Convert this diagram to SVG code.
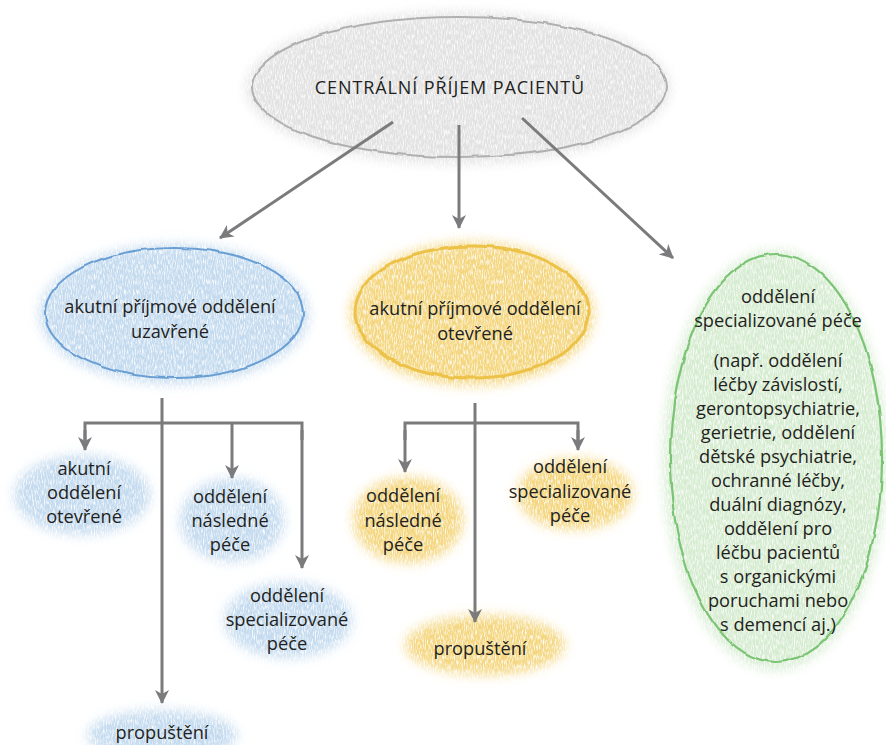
<svg xmlns="http://www.w3.org/2000/svg" width="886" height="745" viewBox="0 0 886 745">
<defs>
<filter id="soft" x="-30%" y="-30%" width="160%" height="160%">
<feGaussianBlur stdDeviation="6" result="b"/>
<feTurbulence type="fractalNoise" baseFrequency="0.9 0.2" numOctaves="2" seed="3" result="n"/>
<feComponentTransfer in="n" result="a"><feFuncA type="linear" slope="2.2" intercept="-0.3"/></feComponentTransfer>
<feComposite in="b" in2="a" operator="in"/>
</filter>
<filter id="rough" x="-10%" y="-10%" width="120%" height="120%">
<feTurbulence type="fractalNoise" baseFrequency="0.05" numOctaves="2" seed="5" result="t"/>
<feDisplacementMap in="SourceGraphic" in2="t" scale="4" xChannelSelector="R" yChannelSelector="G"/>
</filter>
<marker id="ah" markerWidth="14" markerHeight="14" viewBox="0 0 14 14" refX="13" refY="7" orient="auto" markerUnits="userSpaceOnUse">
<path d="M0,0 L14,7 L0,14 L4,7 Z" fill="#7b7b7d"/>
</marker>
</defs>
<style>
text{font-family:"Open Sans","Noto Sans","Liberation Sans",sans-serif;font-size:18.2px;fill:#231f20;text-anchor:middle}
.con{stroke:#7b7b7d;stroke-width:3;fill:none}
.arr{marker-end:url(#ah)}
.blue{fill:#c3daef}
.yel{fill:#f4d67e}
</style>
<rect width="886" height="745" fill="#ffffff"/>

<g id="central">
<ellipse cx="458" cy="88" rx="212" ry="76" fill="#e2e2e2" filter="url(#soft)"/>
<ellipse cx="459" cy="87" rx="207" ry="70" fill="none" stroke="#b0b0b0" stroke-width="2" filter="url(#rough)"/>
<text x="450" y="94" style="font-size:18px;letter-spacing:0.9px">CENTRÁLNÍ PŘÍJEM PACIENTŮ</text>
</g>

<g id="acute-closed">
<ellipse cx="174" cy="314" rx="135" ry="70" class="blue" filter="url(#soft)"/>
<ellipse cx="174" cy="313" rx="129" ry="65" fill="none" stroke="#6a9fd3" stroke-width="2" filter="url(#rough)"/>
<text x="170" y="313">akutní příjmové oddělení</text>
<text x="170" y="338">uzavřené</text>
</g>

<g id="acute-open">
<ellipse cx="472" cy="314" rx="122" ry="72" class="yel" filter="url(#soft)"/>
<ellipse cx="472" cy="312" rx="117" ry="66" fill="none" stroke="#edc24a" stroke-width="3" filter="url(#rough)"/>
<text x="475" y="315">akutní příjmové oddělení</text>
<text x="475" y="340">otevřené</text>
</g>

<g id="special-care">
<ellipse cx="775" cy="460" rx="112" ry="210" fill="#d6ecd0" filter="url(#soft)"/>
<ellipse cx="776" cy="458" rx="106" ry="204" fill="none" stroke="#7cc474" stroke-width="2.2" filter="url(#rough)"/>
<text x="778" y="303">oddělení</text>
<text x="778" y="327">specializované péče</text>
<text x="778" y="367">(např. oddělení</text>
<text x="778" y="391">léčby závislostí,</text>
<text x="778" y="415">gerontopsychiatrie,</text>
<text x="778" y="439">gerietrie, oddělení</text>
<text x="778" y="463">dětské psychiatrie,</text>
<text x="778" y="487">ochranné léčby,</text>
<text x="778" y="511">duální diagnózy,</text>
<text x="778" y="535">oddělení pro</text>
<text x="778" y="559">léčbu pacientů</text>
<text x="778" y="583">s organickými</text>
<text x="778" y="607">poruchami nebo</text>
<text x="778" y="631">s demencí aj.)</text>
</g>

<g id="b-acute-open">
<ellipse cx="82" cy="495" rx="68" ry="40" class="blue" filter="url(#soft)"/>
<text x="84" y="475">akutní</text>
<text x="84" y="499">oddělení</text>
<text x="84" y="523">otevřené</text>
</g>

<g id="b-follow-up">
<ellipse cx="232" cy="520" rx="52" ry="42" class="blue" filter="url(#soft)"/>
<text x="230" y="503">oddělení</text>
<text x="230" y="527">následné</text>
<text x="230" y="551">péče</text>
</g>

<g id="b-special">
<ellipse cx="288" cy="620" rx="64" ry="38" class="blue" filter="url(#soft)"/>
<text x="287" y="602">oddělení</text>
<text x="287" y="626">specializované</text>
<text x="287" y="650">péče</text>
</g>

<g id="b-discharge">
<ellipse cx="162" cy="735" rx="75" ry="25" class="blue" filter="url(#soft)"/>
<text x="162" y="739">propuštění</text>
</g>

<g id="y-follow-up">
<ellipse cx="408" cy="520" rx="55" ry="43" class="yel" filter="url(#soft)"/>
<text x="403" y="502">oddělení</text>
<text x="403" y="527">následné</text>
<text x="403" y="551">péče</text>
</g>

<g id="y-special">
<ellipse cx="575" cy="494" rx="58" ry="36" class="yel" filter="url(#soft)"/>
<text x="570" y="473">oddělení</text>
<text x="570" y="498">specializované</text>
<text x="570" y="522">péče</text>
</g>

<g id="y-discharge">
<ellipse cx="485" cy="645" rx="80" ry="30" class="yel" filter="url(#soft)"/>
<text x="480" y="655">propuštění</text>
</g>

<g id="connectors">
<line class="con arr" x1="393" y1="122" x2="220" y2="238"/>
<line class="con arr" x1="459" y1="125" x2="459" y2="228"/>
<line class="con arr" x1="522" y1="118" x2="673" y2="258"/>

<line class="con arr" x1="162" y1="398" x2="162" y2="703"/>
<polyline class="con" points="85,440 85,423 302,423 302,440"/>
<line class="con arr" x1="85" y1="430" x2="85" y2="450"/>
<line class="con arr" x1="302" y1="430" x2="302" y2="568"/>
<line class="con arr" x1="232" y1="423" x2="232" y2="478"/>

<line class="con arr" x1="475" y1="403" x2="475" y2="622"/>
<polyline class="con" points="405,440 405,423 578,423 578,440"/>
<line class="con arr" x1="405" y1="430" x2="405" y2="472"/>
<line class="con arr" x1="578" y1="430" x2="578" y2="450"/>
</g>
</svg>
